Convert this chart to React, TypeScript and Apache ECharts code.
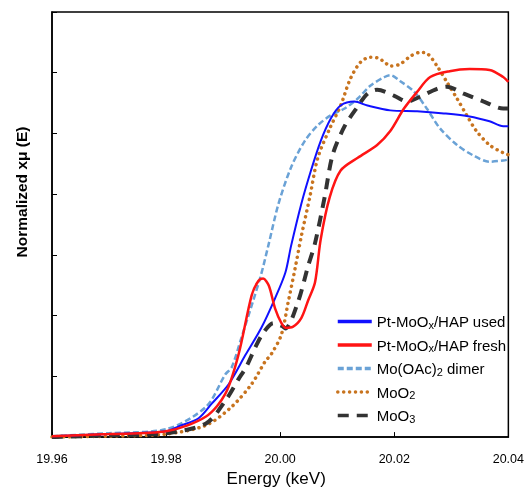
import React, { useEffect, useRef } from "react";
import * as echarts from "echarts";

const xTicks = [19.96, 19.98, 20.0, 20.02, 20.04];

const usedData: [number, number][] = [
  [19.96, 0.003], [19.97, 0.01], [19.98, 0.019], [19.9823, 0.036], [19.9857, 0.062],
  [19.988, 0.11], [19.991, 0.175], [19.9939, 0.27], [19.9967, 0.36], [19.9991, 0.457],
  [20.0009, 0.541], [20.0019, 0.629], [20.0037, 0.768], [20.0054, 0.878], [20.0071, 0.975],
  [20.0089, 1.05], [20.0106, 1.092], [20.013, 1.105], [20.0153, 1.092], [20.0193, 1.076],
  [20.024, 1.073], [20.0287, 1.066], [20.0332, 1.056], [20.0367, 1.04], [20.0391, 1.024],
  [20.04, 1.024],
];

const freshData: [number, number][] = [
  [19.96, 0.003], [19.97, 0.01], [19.98, 0.019], [19.987, 0.068], [19.9904, 0.143],
  [19.9927, 0.272], [19.995, 0.467], [19.9962, 0.515], [19.997, 0.522], [19.998, 0.499],
  [19.9991, 0.424], [20.0002, 0.376], [20.001, 0.36], [20.0022, 0.363], [20.0037, 0.392],
  [20.0049, 0.45], [20.0061, 0.509], [20.0071, 0.651], [20.0087, 0.791], [20.0106, 0.878],
  [20.0136, 0.92], [20.017, 0.962], [20.0193, 1.008], [20.0217, 1.082], [20.024, 1.137],
  [20.0263, 1.186], [20.0297, 1.205], [20.0332, 1.212], [20.0367, 1.209], [20.0391, 1.186],
  [20.04, 1.17],
];

const dimerData: [number, number][] = [
  [19.96, 0.003], [19.97, 0.013], [19.98, 0.026], [19.987, 0.1], [19.9904, 0.207],
  [19.9915, 0.23], [19.9932, 0.327], [19.9965, 0.525], [19.9979, 0.629], [19.9997, 0.768],
  [20.0019, 0.888], [20.0043, 0.975], [20.0066, 1.027], [20.0089, 1.06], [20.0113, 1.082],
  [20.0136, 1.115], [20.0158, 1.157], [20.0183, 1.186], [20.0193, 1.192], [20.021, 1.173],
  [20.0235, 1.137], [20.0257, 1.082], [20.028, 1.017], [20.031, 0.962], [20.0339, 0.927],
  [20.0367, 0.907], [20.0391, 0.911], [20.04, 0.914],
];

const moo2Data: [number, number][] = [
  [19.96, 0.0], [19.97, 0.003], [19.98, 0.01], [19.987, 0.039], [19.9915, 0.1],
  [19.995, 0.175], [19.9974, 0.25], [19.9984, 0.272], [20.0002, 0.337], [20.0014, 0.444],
  [20.0026, 0.554], [20.0037, 0.661], [20.0052, 0.791], [20.0066, 0.92], [20.0087, 1.017],
  [20.0106, 1.092], [20.0123, 1.18], [20.0141, 1.235], [20.0158, 1.251], [20.0172, 1.248],
  [20.0183, 1.235], [20.0193, 1.222], [20.021, 1.228], [20.0228, 1.254], [20.0245, 1.267],
  [20.0257, 1.264], [20.0275, 1.222], [20.0292, 1.17], [20.031, 1.115], [20.0327, 1.06],
  [20.0344, 1.008], [20.0367, 0.962], [20.0391, 0.936], [20.04, 0.93],
];

const moo3Data: [number, number][] = [
  [19.96, 0.0], [19.97, 0.006], [19.98, 0.013], [19.987, 0.045], [19.9904, 0.12],
  [19.9927, 0.191], [19.9941, 0.233], [19.9957, 0.298], [19.9971, 0.345], [19.9988, 0.375],
  [20.0003, 0.366], [20.0009, 0.358], [20.0031, 0.444], [20.0049, 0.564], [20.0061, 0.638],
  [20.0078, 0.791], [20.0092, 0.93], [20.0113, 1.024], [20.0136, 1.089], [20.0153, 1.131],
  [20.017, 1.144], [20.02, 1.124], [20.0223, 1.105], [20.0245, 1.121], [20.0275, 1.147],
  [20.0292, 1.154], [20.0322, 1.131], [20.0357, 1.105], [20.0391, 1.082], [20.04, 1.082],
];

const seriesNames = [
  "Pt-MoOx/HAP used",
  "Pt-MoOx/HAP fresh",
  "Mo(OAc)2 dimer",
  "MoO2",
  "MoO3",
];

const richLabels: Record<string, string> = {
  "Pt-MoOx/HAP used": "{n|Pt-MoO}{s|x}{n|/HAP used}",
  "Pt-MoOx/HAP fresh": "{n|Pt-MoO}{s|x}{n|/HAP fresh}",
  "Mo(OAc)2 dimer": "{n|Mo(OAc)}{s|2}{n| dimer}",
  MoO2: "{n|MoO}{s|2}",
  MoO3: "{n|MoO}{s|3}",
};

const yTitle = "Normalized xμ (E)";
const xTitle = "Energy (keV)";

export default function App() {
  const ref = useRef<HTMLDivElement>(null);
  useEffect(() => {
    if (!ref.current) return;
    const chart = echarts.init(ref.current, undefined, { renderer: "svg" });
    const font = "Liberation Sans, Arial, sans-serif";
    chart.setOption({
      animation: false,
      grid: {
        left: 52,
        right: 15,
        top: 12,
        bottom: 48,
        show: true,
        borderColor: "#000",
        borderWidth: 1.5,
        containLabel: false,
      },
      graphic: [
        {
          type: "text",
          x: 21,
          y: 192,
          rotation: Math.PI / 2,
          style: {
            text: yTitle,
            fontFamily: font,
            fontSize: 15.5,
            fontWeight: "bold",
            fill: "#000",
            textAlign: "center",
            textVerticalAlign: "middle",
          },
        },
      ],
      legend: {
        orient: "vertical",
        left: 336,
        top: 314,
        padding: 0,
        itemWidth: 34,
        itemHeight: 14,
        itemGap: 7.5,
        data: seriesNames,
        itemStyle: { opacity: 0 },
        lineStyle: { width: 3.5 },
        formatter: (name: string) => richLabels[name] || name,
        textStyle: {
          fontFamily: font,
          color: "#000",
          rich: {
            n: { fontSize: 15, fontFamily: font, color: "#000", lineHeight: 17 },
            s: {
              fontSize: 11,
              fontFamily: font,
              color: "#000",
              lineHeight: 6,
              verticalAlign: "bottom",
            },
          },
        },
      },
      xAxis: {
        type: "value",
        min: 19.96,
        max: 20.04,
        interval: 0.02,
        name: xTitle,
        nameLocation: "middle",
        nameGap: 29,
        nameTextStyle: { fontFamily: font, fontSize: 17, color: "#000", padding: [0, 8, 0, 0] },
        axisLine: { show: true, lineStyle: { color: "#000", width: 1.5 } },
        axisTick: { show: true, inside: true, length: 5, lineStyle: { color: "#000" } },
        axisLabel: {
          fontFamily: font,
          fontSize: 12.5,
          color: "#000",
          margin: 15,
          formatter: (v: number) => v.toFixed(2),
          customValues: xTicks,
        },
        splitLine: { show: false },
      },
      yAxis: {
        type: "value",
        min: 0,
        max: 1.4,
        interval: 0.2,
        axisLine: { show: true, lineStyle: { color: "#000", width: 1.5 } },
        axisTick: { show: true, inside: true, length: 5, lineStyle: { color: "#000" } },
        axisLabel: { show: false },
        splitLine: { show: false },
      },
      series: [
        {
          name: "Mo(OAc)2 dimer",
          type: "line",
          data: dimerData,
          smooth: 0.3,
          showSymbol: false,
          symbol: "none",
          lineStyle: { color: "#6aa2d6", width: 2.5, type: [6, 3] },
          itemStyle: { color: "#6aa2d6" },
        },
        {
          name: "MoO2",
          type: "line",
          data: moo2Data,
          smooth: 0.3,
          showSymbol: false,
          symbol: "none",
          lineStyle: { color: "#c8741f", width: 3.5, type: [0.1, 5.8], cap: "round" },
          itemStyle: { color: "#c8741f" },
        },
        {
          name: "MoO3",
          type: "line",
          data: moo3Data,
          smooth: 0.3,
          showSymbol: false,
          symbol: "none",
          lineStyle: { color: "#333333", width: 4, type: [11, 8] },
          itemStyle: { color: "#333333" },
        },
        {
          name: "Pt-MoOx/HAP used",
          type: "line",
          data: usedData,
          smooth: 0.3,
          showSymbol: false,
          symbol: "none",
          lineStyle: { color: "#1010ff", width: 2 },
          itemStyle: { color: "#1010ff" },
        },
        {
          name: "Pt-MoOx/HAP fresh",
          type: "line",
          data: freshData,
          smooth: 0.3,
          showSymbol: false,
          symbol: "none",
          lineStyle: { color: "#ff1414", width: 2.5 },
          itemStyle: { color: "#ff1414" },
        },
      ],
    });
    return () => chart.dispose();
  }, []);
  return (
    <div
      ref={ref}
      style={{ position: "fixed", left: 0, top: 0, width: 527, height: 492 }}
    />
  );
}
